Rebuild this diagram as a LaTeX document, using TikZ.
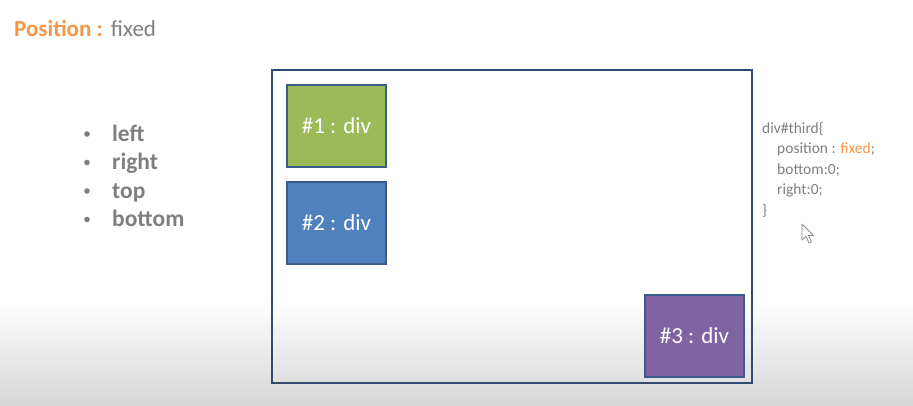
\documentclass[tikz,border=0pt]{standalone}
\usepackage{fontspec}
\setmainfont{Carlito}
\usepackage{xcolor}
\usepackage{tikz}

\definecolor{titleorange}{HTML}{F79646}
\definecolor{textgray}{HTML}{7F7F7F}
\definecolor{divgreen}{HTML}{9BBB59}
\definecolor{divblue}{HTML}{4F81BD}
\definecolor{divpurple}{HTML}{8064A2}
\definecolor{divedge}{HTML}{385D8A}
\definecolor{frameedge}{HTML}{2F4B72}

\tikzset{
  divbox/.style={draw=divedge, line width=2pt, minimum width=99pt, minimum height=82pt,
    inner sep=0pt, text=white, font=\fontsize{23}{26}\selectfont},
  bulletitem/.style={anchor=base west, inner sep=0pt, text=textgray,
    font=\fontsize{23.5}{27}\selectfont\bfseries},
  codeline/.style={anchor=base west, inner sep=0pt, text=textgray,
    font=\fontsize{15.5}{18}\selectfont}
}

\begin{document}
\begin{tikzpicture}[x=1pt, y=-1pt]
\useasboundingbox (0,0) rectangle (913,406);
\shade[top color=white, bottom color=black!16] (0,300) rectangle (913,406);

\node[anchor=base west, inner sep=0pt, font=\fontsize{23}{26}\selectfont] (title) at (14,37)
  {\textcolor{titleorange}{\bfseries Position :}\hspace{8pt}\textcolor{textgray}{fixed}};

\node[bulletitem] (left) at (112,141.5) {left};
\node[bulletitem] (right) at (112,170) {right};
\node[bulletitem] (top) at (112,198.5) {top};
\node[bulletitem] (bottom) at (112,227) {bottom};
\foreach \y in {134,162.5,191,219.5}
  \fill[textgray] (87,\y) circle (2.8pt);

\draw[frameedge, line width=2pt] (272,70) rectangle (752,383);
\node[divbox, fill=divgreen] (box1) at (336.5,126) {\#1 : div};
\node[divbox, fill=divblue] (box2) at (336.5,223) {\#2 : div};
\node[divbox, fill=divpurple] (box3) at (694.5,335.5) {\#3 : div};

\node[codeline] (code1) at (762,133.5) {div\#third\{};
\node[codeline] (code2) at (777,154) {position : \textcolor{titleorange}{fixed};};
\node[codeline] (code3) at (777,174.5) {bottom:0;};
\node[codeline] (code4) at (777,195) {right:0;};
\node[codeline] (code5) at (762,215.5) {\}};

\draw[black!45, fill=white, line width=0.8pt, line join=round]
  (802,224) -- (802,240) -- (806,236.5) -- (809,243) -- (811.5,242) -- (808.5,235.5) -- (813.5,235.5) -- cycle;
\end{tikzpicture}
\end{document}
